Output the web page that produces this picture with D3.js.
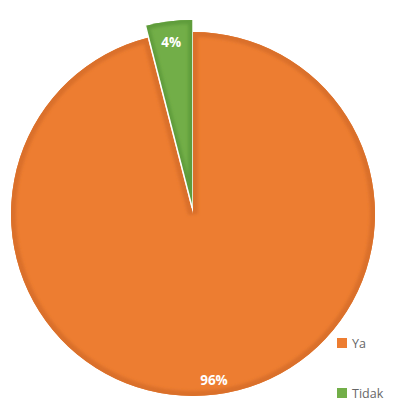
<!DOCTYPE html>
<html>
<head>
<meta charset="utf-8">
<script src="https://cdn.jsdelivr.net/npm/d3@7"></script>
<style>
  html, body { margin: 0; padding: 0; background: #fff; }
  svg { display: block; }
</style>
</head>
<body>
<svg id="chart" width="394" height="400"></svg>
<script>
// Survey answers and their shares (percent)
const categories = ["Ya", "Tidak"];
const values = [96, 4];
const labels = ["96%", "4%"];

const fills = ["#ED7D31", "#72AE48"];
const edges = ["#DA7029", "#5F9C3B"];

const width = 394, height = 400;
const cx = 193, cy = 214, radius = 182;
const explode = [0, 6];        // outward shift per slice
const growth = [0, 6];         // extra radius for the pulled-out slice

const svg = d3.select("#chart");
const defs = svg.append("defs");

// soft edge for the inner shading band
defs.append("filter").attr("id", "soft")
  .attr("x", "-10%").attr("y", "-10%").attr("width", "120%").attr("height", "120%")
  .append("feGaussianBlur").attr("stdDeviation", 1.4);

const pie = d3.pie().sort(null).value(d => d)(values);

const root = svg.append("g").attr("transform", `translate(${cx},${cy})`);

pie.forEach((d, i) => {
  const mid = (d.startAngle + d.endAngle) / 2;
  const dx = Math.sin(mid) * explode[i];
  const dy = -Math.cos(mid) * explode[i];
  const r = radius + growth[i];
  const arc = d3.arc().innerRadius(0).outerRadius(r);
  const g = root.append("g").attr("transform", `translate(${dx},${dy})`);
  const path = arc(d);

  // clip region in the slice's own coordinates
  const clipId = "clip-" + i;
  defs.append("clipPath").attr("id", clipId)
    .append("path").attr("d", path);

  g.append("path").attr("d", path).attr("fill", fills[i]);
  // darker band running along the inside of the slice outline
  g.append("g")
    .attr("clip-path", `url(#${clipId})`)
    .append("path")
    .attr("d", path)
    .attr("filter", "url(#soft)")
    .attr("fill", "none")
    .attr("stroke", edges[i])
    .attr("stroke-width", i === 0 ? 10 : 8)
    .attr("stroke-linejoin", "miter");

  if (i === 1) {
    // thin light edge on the leading side of the small slice
    const a = d.startAngle;
    g.append("line")
      .attr("x1", 0).attr("y1", 0)
      .attr("x2", Math.sin(a) * r).attr("y2", -Math.cos(a) * r)
      .attr("stroke", "#ffffff").attr("stroke-width", 1.5);
  }

  const lr = radius * 0.92;
  g.append("text")
    .attr("x", Math.sin(mid) * lr)
    .attr("y", -Math.cos(mid) * lr)
    .attr("text-anchor", "middle")
    .attr("dominant-baseline", "central")
    .attr("fill", "#ffffff")
    .attr("font-family", "'Open Sans', 'Liberation Sans', sans-serif")
    .attr("font-weight", "bold")
    .attr("font-size", 13.5)
    .text(labels[i]);
});

// Legend
const legendY = d3.scalePoint().domain(categories).range([343, 393]);
const legend = svg.append("g");
categories.forEach((c, i) => {
  legend.append("rect")
    .attr("x", 337).attr("y", legendY(c) - 5)
    .attr("width", 10).attr("height", 10)
    .attr("fill", fills[i]);
  legend.append("text")
    .attr("x", 352).attr("y", legendY(c))
    .attr("dominant-baseline", "central")
    .attr("fill", "#666666")
    .attr("font-family", "'Open Sans', 'Liberation Sans', sans-serif")
    .attr("font-size", 12.5)
    .text(c);
});
</script>
</body>
</html>
